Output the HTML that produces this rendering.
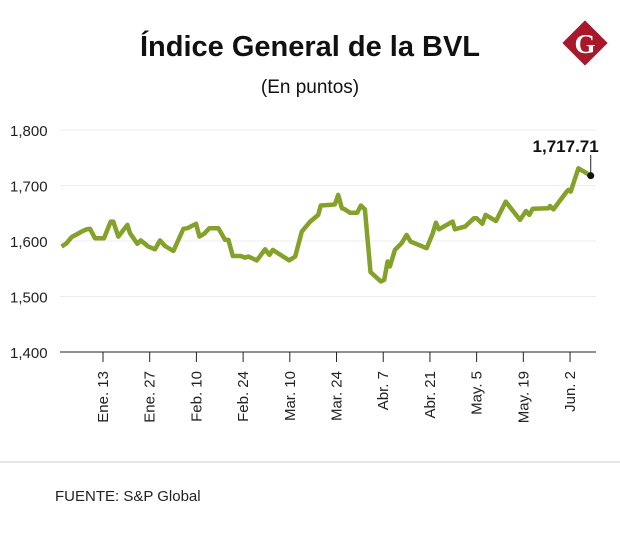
<!DOCTYPE html>
<html><head><meta charset="utf-8"><style>
body{margin:0;background:#fff;width:620px;height:537px;overflow:hidden;font-family:"Liberation Sans",sans-serif}
</style></head><body>
<svg width="620" height="537">
<text x="310" y="56" text-anchor="middle" font-size="29" font-weight="bold" fill="#111">Índice General de la BVL</text>
<text x="310" y="93" text-anchor="middle" font-size="19" fill="#111">(En puntos)</text>
<g><rect x="569" y="27" width="32" height="32" fill="#a8182a" transform="rotate(45 585 43)"/><text x="585" y="53" text-anchor="middle" font-family="Liberation Serif,serif" font-weight="bold" font-size="27" fill="#fff">G</text></g>
<g id="plot"></g>
<line x1="0" y1="462" x2="620" y2="462" stroke="#ccc"/>
<text x="55" y="501" font-size="15" fill="#222">FUENTE: S&amp;P Global</text>
</svg>
<script>
const days=[-0.4,1.1,2.6,5.6,7.1,8.1,9.6,12.3,14.3,15.1,16.6,19.3,20.1,22.3,23.3,25.6,27.6,29.1,30.6,33.1,36.1,37.3,39.9,40.9,42.3,43.9,46.6,48.6,49.6,50.9,53.3,54.6,55.6,58.1,60.6,61.9,62.9,67.8,69.6,71.6,74.1,76.5,77.3,80.0,81.5,82.5,83.6,84.5,86.0,88.2,89.3,90.5,92.2,95.3,96.3,97.3,98.0,99.5,101.5,103.0,104.2,109.0,110.8,111.8,112.7,116.8,117.5,120.5,123.2,124.0,125.7,126.7,129.8,132.7,137.0,138.8,139.8,140.8,145.5,146.0,147.0,151.0,151.5,152.2,154.5,158.2];
const values=[1590,1596,1607,1617,1621,1622,1605,1605,1635,1635,1608,1629,1614,1595,1601,1590,1585,1601,1591,1582,1622,1623,1631,1608,1613,1623,1623,1602,1602,1573,1573,1570,1572,1565,1585,1575,1584,1565,1572,1617,1635,1647,1664,1665,1666,1683,1659,1657,1651,1651,1664,1657,1544,1527,1530,1563,1554,1584,1596,1611,1599,1587,1613,1633,1621,1635,1621,1626,1641,1641,1631,1647,1636,1671,1638,1654,1647,1658,1659,1663,1657,1689,1692,1689,1731,1717.71];
const yTicks=[1400,1500,1600,1700,1800];
const yTickLabels=["1,400","1,500","1,600","1,700","1,800"];
const xTickDays=[12,26,40,54,68,82,96,110,124,138,152];
const xTickLabels=["Ene. 13","Ene. 27","Feb. 10","Feb. 24","Mar. 10","Mar. 24","Abr. 7","Abr. 21","May. 5","May. 19","Jun. 2"];
const lastLabel="1,717.71";
const NS="http://www.w3.org/2000/svg";
const g=document.getElementById('plot');
const X=d=>103+(d-12)*3.336;
const Y=v=>352-(v-1400)*0.555;
function mk(t,a){const e=document.createElementNS(NS,t);for(const k in a)e.setAttribute(k,a[k]);g.appendChild(e);return e;}
yTicks.forEach((v,i)=>{
 if(i>0){const l=mk('line',{x1:60,x2:596,y1:Y(v),y2:Y(v),stroke:'#eee'});
 
 }
 const t=mk('text',{x:10,y:Y(v)+6,'font-size':15,fill:'#222'});t.textContent=yTickLabels[i];
 
 
});
const ax=mk('line',{x1:60,x2:596,y1:352,y2:352,stroke:'#222'});


xTickDays.forEach((d,i)=>{
 const tk=mk('line',{x1:X(d),x2:X(d),y1:352,y2:362,stroke:'#222'});
 
 
 const t=mk('text',{x:0,y:0,'font-size':15,fill:'#222','text-anchor':'end',transform:`translate(${X(d)+5},371) rotate(-90)`});
 t.textContent=xTickLabels[i];
 
 
});
const pts=days.map((d,i)=>X(d).toFixed(1)+','+Y(values[i]).toFixed(1)).join(' ');
const ln=mk('polyline',{points:pts,fill:'none',stroke:'#84a12a','stroke-width':4.5,'stroke-linejoin':'round'});


const lx=X(days[days.length-1]),ly=Y(values[values.length-1]);
const cl=mk('line',{x1:lx,x2:lx,y1:155,y2:ly,stroke:'#222'});


const dot=mk('circle',{cx:lx,cy:ly,r:3.5,fill:'#111'});


const lt=mk('text',{x:lx+8,y:152,'font-size':17,'font-weight':'bold','text-anchor':'end',fill:'#111'});
lt.textContent=lastLabel;


</script>
</body></html>
